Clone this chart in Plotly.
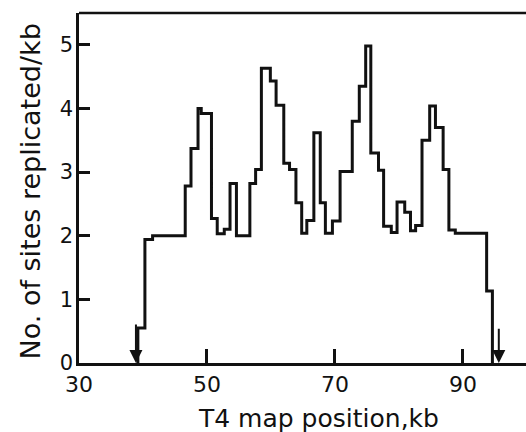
import plotly.graph_objects as go

# Step edges (T4 map position, kb) and the value held from each edge to the next
edges_kb = [39.2, 40.3, 41.5, 46.6, 47.5, 48.6, 49.1, 50.7, 51.6, 52.7, 53.6, 54.6,
            56.7, 57.6, 58.5, 59.9, 60.8, 62.0, 62.9, 63.9, 64.8, 65.6, 66.7, 67.7,
            68.5, 69.6, 70.8, 72.7, 73.8, 74.8, 75.6, 76.8, 77.6, 78.8, 79.7, 80.9,
            81.8, 82.6, 83.6, 84.8, 85.7, 86.9, 87.8, 88.8, 93.7, 94.6]
sites_per_kb = [0.55, 1.94, 2.0, 2.78, 3.37, 4.0, 3.92, 2.27, 2.03, 2.1, 2.82, 2.0,
                2.82, 3.04, 4.63, 4.43, 4.05, 3.14, 3.04, 2.52, 2.04, 2.24, 3.62, 2.52,
                2.04, 2.23, 3.01, 3.8, 4.35, 4.98, 3.3, 3.03, 2.15, 2.05, 2.53, 2.37,
                2.08, 2.16, 3.5, 4.04, 3.7, 3.04, 2.09, 2.04, 1.13]

x_ticks = [30, 50, 70, 90]
y_ticks = [0, 1, 2, 3, 4, 5]

arrow_kb = [38.9, 95.6]
arrow_top = [0.63, 0.56]

x_title = "T4 map position,kb"
y_title = "No. of sites replicated/kb"

# Build step path: start at zero, rise, then back to zero at last edge
xs = [edges_kb[0]] + edges_kb
ys = [0] + sites_per_kb + [0]

FONT = "DejaVu Sans"
INK = "#111111"

fig = go.Figure()
fig.add_trace(go.Scatter(x=xs, y=ys, mode="lines", line=dict(shape="hv", color=INK, width=3),
                         hoverinfo="skip", showlegend=False))

for xk, yt in zip(arrow_kb, arrow_top):
    fig.add_annotation(x=xk, y=0, ax=xk, ay=yt, xref="x", yref="y", axref="x", ayref="y",
                       showarrow=True, arrowhead=2, arrowsize=1.3, arrowwidth=2,
                       arrowcolor=INK, text="")

fig.update_xaxes(range=[30, 99.85], tickvals=x_ticks, ticktext=[str(v) for v in x_ticks],
                 ticks="inside", ticklen=14, tickwidth=2.5, tickcolor=INK,
                 showline=True, linewidth=2.5, linecolor=INK, showgrid=False, zeroline=False,
                 tickfont=dict(family=FONT, size=22, color=INK))
fig.update_yaxes(range=[0, 5.5], tickvals=y_ticks, ticktext=[str(v) for v in y_ticks],
                 ticks="inside", ticklen=11, tickwidth=2.5, tickcolor=INK,
                 showline=True, linewidth=2.5, linecolor=INK, showgrid=False, zeroline=False,
                 ticklabelstandoff=-1,
                 tickfont=dict(family=FONT, size=21, color=INK))

# top border of the frame (runs past the right edge)
fig.add_shape(type="line", xref="paper", yref="paper", x0=0, x1=1.05, y0=1, y1=1,
              line=dict(color=INK, width=2.5))

fig.add_annotation(text=x_title, xref="paper", yref="paper", x=0.535, y=0,
                   yshift=-55, yanchor="middle", showarrow=False,
                   font=dict(family=FONT, size=25, color=INK))
fig.add_annotation(text=y_title, xref="paper", yref="paper", x=0, y=0.49,
                   xshift=-49, xanchor="center", textangle=-90, showarrow=False,
                   font=dict(family=FONT, size=27, color=INK))

fig.update_layout(width=526, height=432, margin=dict(l=79, r=0, t=13, b=69),
                  paper_bgcolor="white", plot_bgcolor="white")

fig.write_html("out.html")
